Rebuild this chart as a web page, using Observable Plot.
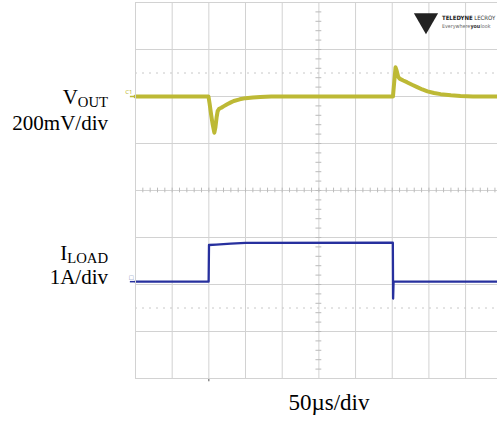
<!DOCTYPE html>
<html><head><meta charset="utf-8">
<script src="https://cdn.jsdelivr.net/npm/d3@7"></script>
<script src="https://cdn.jsdelivr.net/npm/@observablehq/plot@0.6"></script>
<style>body{margin:0;background:#fff}#chart svg{display:block}</style>
</head><body><div id="chart"></div>
<script>
// ---- data ----
// time in µs relative to screen centre (50 µs/div)
const voutTime = [-250,-150.5,-149,-147,-145,-142.5,-141,-139.5,-138,-136,-133,-130,-125,-120,-116,-108,-100,-90,-80,-65,101,102.5,104.5,106,108,110,115,120,127,134,141,148,157,166,180,193,210,243.5];
// VOUT deviation from nominal, mV (200 mV/div)
const voutMV   = [0,0,-30,-75,-115,-154,-130,-90,-62,-52,-48,-42,-33,-25,-19,-12,-7,-4,-2,0,0,55,124,110,85,76,68,61,50,40,30,22,15,10,5,2,0,0];
// load current, A (1 A/div)
const iloadTime = [-250,-150.3,-149.8,-140,-120,-100,100.8,101.2,101.8,243.5];
const iloadA    = [0,0,0.78,0.79,0.81,0.825,0.83,-0.36,0,0];
// graticule
const timeGrid = [-250,-200,-150,-100,-50,0,50,100,150,200,250];
const divGrid  = [-4,-3,-2,-1,0,1,2,3,4];
const refDotted = [2.5,-2.5];
const triggerTime = [-150];
// channel placement (div offset of zero level, units per div)
const voutOffset = 2.0, voutPerDiv = 200;
const iloadOffset = -1.94, iloadPerDiv = 1;

const vout = voutTime.map((t,i)=>({t, y: voutOffset + voutMV[i]/voutPerDiv}));
const iload = iloadTime.map((t,i)=>({t, y: iloadOffset + iloadA[i]/iloadPerDiv}));
const minorT = d3.range(-250, 250.1, 10);
const minorV = d3.range(-4, 4.01, 0.2);

const gridColor = "#d2d2d2";
const voutColor = "#bdb935", iloadColor = "#27309e";
const plot = Plot.plot({
  width: 497, height: 423,
  marginLeft: 135, marginRight: 0, marginTop: 2, marginBottom: 45,
  x: {domain: [-250, 243.5], axis: null},
  y: {domain: [-4, 4], axis: null},
  style: {background: "#fff"},
  marks: [
    Plot.ruleX(timeGrid.filter(t=>t<=243.5), {stroke: gridColor, strokeWidth: 1}),
    Plot.ruleY(divGrid, {stroke: gridColor, strokeWidth: 1}),
    Plot.ruleY(refDotted, {stroke: "#c8c8c8", strokeDasharray: "2,5", strokeWidth: 1}),
    Plot.ruleX(minorT.filter(t=>t<=243.5), {x: d=>d, y1: -0.05, y2: 0.05, stroke: "#bbb"}),
    Plot.ruleY(minorV, {y: d=>d, x1: -4, x2: 4, stroke: "#bbb"}),
    Plot.ruleX(triggerTime, {y1: -4, y2: -4.07, stroke: "#555"}),
    // channel markers
    Plot.ruleY([voutOffset], {x1: -257, x2: -250, stroke: voutColor, strokeWidth: 1.5}),
    Plot.text(["C1"], {x: -250, y: voutOffset + 0.1, dx: -3, textAnchor: "end", fontSize: 6, fill: voutColor}),
    Plot.ruleY([iloadOffset], {x1: -257, x2: -250, stroke: iloadColor, strokeWidth: 1.5}),
    Plot.text(["□"], {x: -250, y: iloadOffset + 0.09, dx: -2, textAnchor: "end", fontSize: 7, fill: "#6677aa"}),
    // traces
    Plot.line(vout, {x: "t", y: "y", stroke: voutColor, strokeWidth: 4, strokeLinejoin: "round"}),
    Plot.line(iload, {x: "t", y: "y", stroke: iloadColor, strokeWidth: 2.3}),
    // logo mark (downward triangle)
    Plot.dot([0], {x: 146, y: 3.62, symbol: "triangle", rotate: 180, r: 9, fill: "#222", stroke: null}),
    Plot.frame({stroke: gridColor})
  ]
});
document.getElementById("chart").appendChild(plot);

// ---- outside labels ----
const svg = d3.select(plot);
const serif = "'Liberation Serif','Times New Roman',Times,serif";
const narrow = "'DejaVu Sans Condensed','Liberation Sans',sans-serif";
function label(x, y, main, sub, size) {
  const t = svg.append("text").attr("x", x).attr("y", y).attr("text-anchor", "end")
    .attr("font-family", serif).attr("font-size", size).attr("fill", "#000");
  t.append("tspan").text(main);
  if (sub) t.append("tspan").attr("font-size", size * 0.7).attr("dy", 3).text(sub);
}
label(108, 104, "V", "OUT", 21);
label(108, 130, "200mV/div", null, 21);
label(108, 260, "I", "LOAD", 21);
label(108, 284, "1A/div", null, 21);
svg.append("text").attr("x", 329).attr("y", 410).attr("text-anchor", "middle")
  .attr("font-family", serif).attr("font-size", 23).attr("fill", "#000").text("50µs/div");

// logo text: pieces laid out one after another by their measured width
function logoLine(x, y, size, parts, gap) {
  let cx = x;
  for (const [str, weight, fill] of parts) {
    const node = svg.append("text").attr("x", cx).attr("y", y).attr("text-anchor", "start")
      .attr("font-family", narrow).attr("font-size", size).attr("font-weight", weight)
      .attr("fill", fill).text(str).node();
    cx += node.getComputedTextLength() + gap;
  }
}
logoLine(442, 19.5, 6, [["TELEDYNE", "bold", "#222"], ["LECROY", "normal", "#333"]], 1.5);
logoLine(442, 28, 5.3, [["Everywhere", "normal", "#666"], ["you", "bold", "#333"], ["look", "normal", "#666"]], 0.3);
</script></body></html>
